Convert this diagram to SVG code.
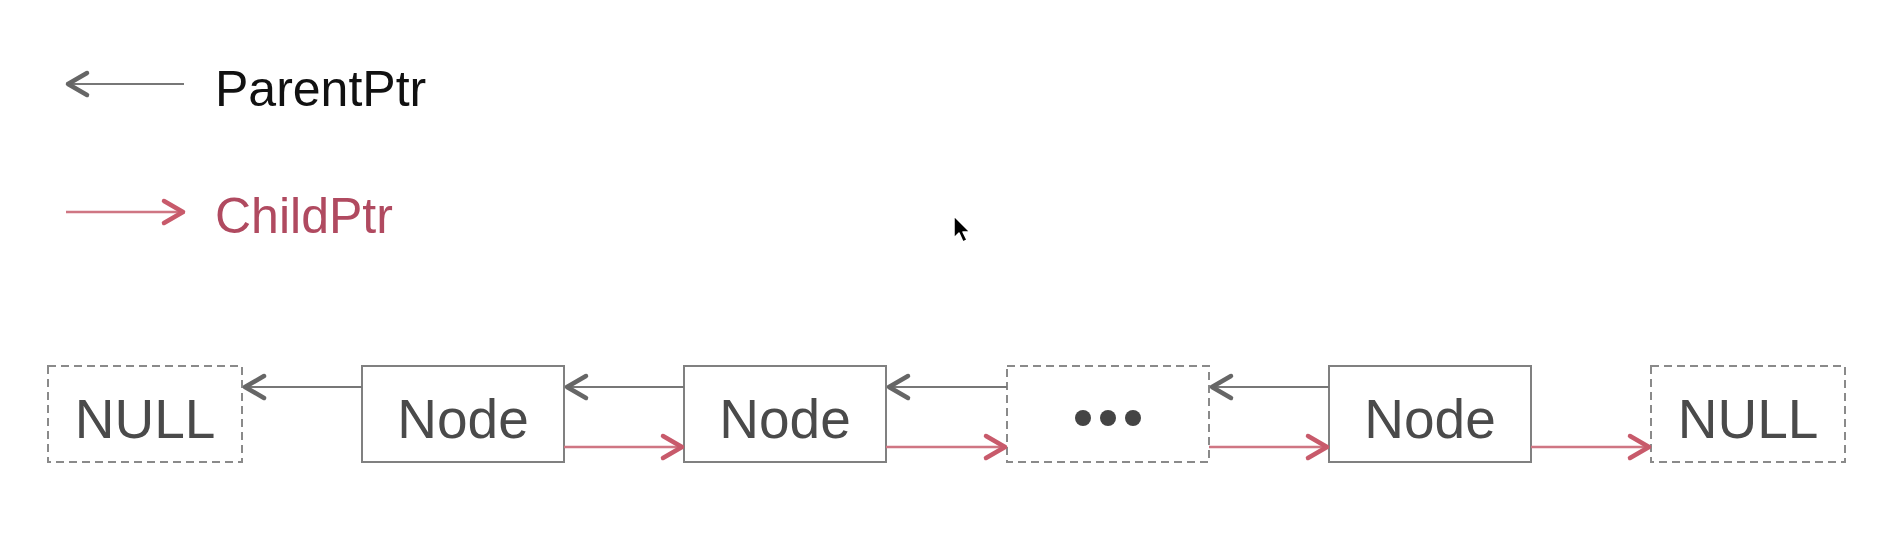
<svg xmlns="http://www.w3.org/2000/svg" width="1886" height="560" viewBox="0 0 1886 560">
<style>
.box{fill:#fff;stroke:#808080;stroke-width:2}
.dash{fill:#fff;stroke:#8a8a8a;stroke-width:2;stroke-dasharray:8 5}
.lbl{font-family:"Liberation Sans",Arial,sans-serif;font-size:55px;fill:#4a4a4a;text-anchor:middle}
.leg{font-family:"Liberation Sans",Arial,sans-serif;font-size:50px}
.par{fill:none;stroke:#777;stroke-width:2;marker-end:url(#hg)}
.chi{fill:none;stroke:#cf7683;stroke-width:2.5;marker-end:url(#hp)}
</style>
<defs>
<marker id="hg" viewBox="-28 -15 32 30" refX="0" refY="0" markerWidth="32" markerHeight="30" markerUnits="userSpaceOnUse" orient="auto">
<path d="M-21,-11 L-2,0 L-21,11" fill="none" stroke="#666" stroke-width="4.5" stroke-linecap="round" stroke-linejoin="round"/>
</marker>
<marker id="hp" viewBox="-28 -15 32 30" refX="0" refY="0" markerWidth="32" markerHeight="30" markerUnits="userSpaceOnUse" orient="auto">
<path d="M-21,-11 L-2,0 L-21,11" fill="none" stroke="#c85a6b" stroke-width="4.5" stroke-linecap="round" stroke-linejoin="round"/>
</marker>
</defs>
<rect width="1886" height="560" fill="#fff"/>
<g id="legend">
<line class="par" x1="184" y1="84" x2="66" y2="84"/>
<text class="leg" x="215" y="106" fill="#111">ParentPtr</text>
<line class="chi" x1="66" y1="212" x2="185" y2="212"/>
<text class="leg" x="215" y="233" fill="#b04a60">ChildPtr</text>
</g>
<g id="null-left"><rect class="dash" x="48" y="366" width="194" height="96"/><text class="lbl" x="145" y="438">NULL</text></g>
<g id="node-1"><rect class="box" x="362" y="366" width="202" height="96"/><text class="lbl" x="463" y="438">Node</text></g>
<g id="node-2"><rect class="box" x="684" y="366" width="202" height="96"/><text class="lbl" x="785" y="438">Node</text></g>
<g id="ellipsis"><rect class="dash" x="1007" y="366" width="202" height="96"/>
<circle cx="1083" cy="418" r="8" fill="#444"/><circle cx="1108" cy="418" r="8" fill="#444"/><circle cx="1133" cy="418" r="8" fill="#444"/></g>
<g id="node-3"><rect class="box" x="1329" y="366" width="202" height="96"/><text class="lbl" x="1430" y="438">Node</text></g>
<g id="null-right"><rect class="dash" x="1651" y="366" width="194" height="96"/><text class="lbl" x="1748" y="438">NULL</text></g>
<g id="connectors">
<line class="par" x1="362" y1="387" x2="243" y2="387"/>
<line class="par" x1="684" y1="387" x2="565" y2="387"/>
<line class="par" x1="1007" y1="387" x2="887" y2="387"/>
<line class="par" x1="1329" y1="387" x2="1210" y2="387"/>
<line class="chi" x1="564" y1="447" x2="684" y2="447"/>
<line class="chi" x1="886" y1="447" x2="1007" y2="447"/>
<line class="chi" x1="1209" y1="447" x2="1329" y2="447"/>
<line class="chi" x1="1531" y1="447" x2="1651" y2="447"/>
</g>
<polygon points="954,216 954,238 959,233 963,242 967,240 963,232 970,232" fill="#000" stroke="#fff" stroke-width="1.5" stroke-linejoin="round"/>
</svg>
